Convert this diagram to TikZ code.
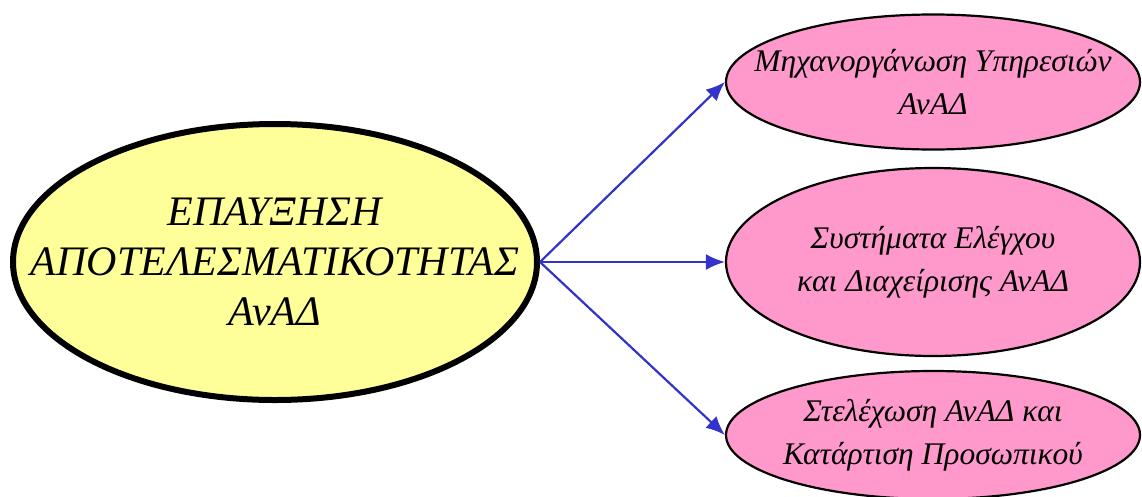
\documentclass[tikz,border=0pt]{standalone}
\usepackage{fontspec}
\setmainfont{Liberation Serif}
\usetikzlibrary{shapes.geometric,arrows.meta}
\definecolor{yel}{HTML}{FFFF99}
\definecolor{pnk}{HTML}{FF99CC}
\definecolor{arrblue}{HTML}{3333CC}
\tikzset{
  mainell/.style={ellipse,draw=black,fill=yel,line width=6pt,inner sep=0pt,minimum width=524pt,minimum height=276pt},
  subell/.style={ellipse,draw=black,fill=pnk,line width=2.2pt,inner sep=0pt,minimum width=414pt},
  maintxt/.style={align=center,font=\fontsize{42}{50}\selectfont\itshape,inner sep=0pt},
  subtxt/.style={align=center,font=\fontsize{31.5}{43}\selectfont\itshape,inner sep=0pt},
  arr/.style={draw=arrblue,line width=2.2pt,-{Latex[length=19pt,width=16pt]}}
}
\begin{document}
\begin{tikzpicture}[x=1pt,y=-1pt]
\useasboundingbox (0,0) rectangle (1142,496);
\node[mainell] (L) at (275,262) {};
\node[maintxt] (Lt) at (L.center) {ΕΠΑΥΞΗΣΗ\\ΑΠΟΤΕΛΕΣΜΑΤΙΚΟΤΗΤΑΣ\\ΑνΑΔ};
\node[subell,minimum height=135pt] (T) at (933,82) {};
\node[subtxt] (Tt) at (T.center) {Μηχανοργάνωση Υπηρεσιών\\ΑνΑΔ};
\node[subell,minimum height=188pt] (M) at (933,262) {};
\node[subtxt] (Mt) at (M.center) {Συστήματα Ελέγχου\\και Διαχείρισης ΑνΑΔ};
\node[subell,minimum height=128pt] (B) at (933,435) {};
\node[subtxt] (Bt) at (B.center) {Στελέχωση ΑνΑΔ και\\Κατάρτιση Προσωπικού};
\draw[arr] (L.east) -- (T.west);
\draw[arr] (L.east) -- (M.west);
\draw[arr] (L.east) -- (B.west);
\end{tikzpicture}
\end{document}
